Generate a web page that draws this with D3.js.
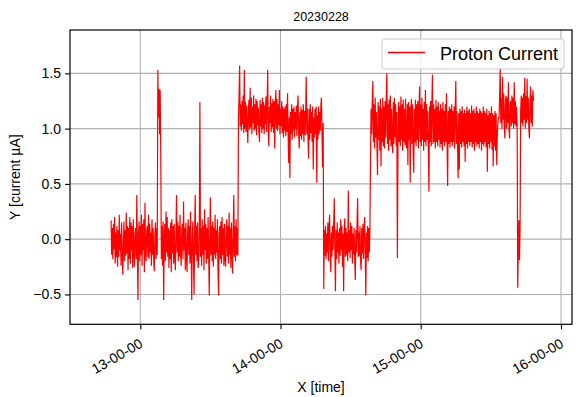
<!DOCTYPE html>
<html><head><meta charset="utf-8">
<script src="https://cdn.jsdelivr.net/npm/d3@7"></script>
<style>
body{margin:0;background:#fff;}
text{font-family:"Liberation Sans",Arial,sans-serif;fill:#000;}
</style></head><body>
<svg id="chart" width="576" height="397"></svg>
<script>
const chartTitle = "20230228";
const seriesName = "Proton Current";
const xLabel = "X [time]";
const yLabel = "Y [current µA]";
const startTime = new Date(2023, 1, 28, 12, 47, 30);
const sampleSeconds = 15;

// beam off
const seg1 = [0.17,-0.14,0.10,-0.18,0.14,-0.09,0.20,-0.22,0.06,-0.16,
 0.12,-0.25,0.08,-0.16,0.22,-0.10,0.05,-0.24,0.15,-0.12,
 -0.32,-0.06,0.16,-0.20,0.08,-0.15,0.24,-0.13,0.12,-0.28,
 0.10,-0.18,0.20,-0.22,0.15,-0.10,0.12,-0.26,0.18,-0.12,
 -0.25,0.05,0.10,-0.18,0.40,-0.10,-0.55,0.06,0.16,-0.20,
 0.12,-0.14,0.22,-0.24,0.14,-0.10,0.18,-0.30,0.33,-0.12,
 -0.20,0.08,0.12,-0.16,0.22,-0.18,0.14,-0.12,0.06,-0.24,
 0.18,-0.14,0.10,-0.20,-0.29,0.05,0.15,-0.18,0.10,-0.14,
 1.53,1.10,1.36,0.95,1.35,0.78,-0.18,0.12,-0.24,0.16,
 -0.55,0.02,0.14,-0.20,0.25,-0.12,0.20,-0.16,0.10,-0.26,
 0.08,-0.18,0.15,-0.30,0.18,-0.13,0.12,-0.22,0.14,-0.15,
 -0.28,0.05,0.40,-0.12,0.16,-0.20,0.12,-0.16,0.22,-0.14,
 -0.24,0.08,0.14,-0.18,0.34,-0.10,0.10,-0.28,0.15,-0.16,
 -0.30,0.06,0.18,-0.14,0.12,-0.22,0.25,-0.12,-0.55,0.04,
 0.16,-0.18,-0.50,0.06,0.40,-0.14,0.12,-0.20,0.15,-0.26,
 -0.22,0.08,1.24,-0.16,0.10,-0.24,0.18,-0.14,0.12,-0.28,
 0.27,-0.10,0.14,-0.22,0.10,-0.18,0.20,-0.12,-0.51,0.05,
 0.38,-0.14,0.12,-0.20,0.16,-0.25,0.10,-0.14,0.22,-0.18,
 0.08,-0.12,0.18,-0.30,-0.51,0.04,0.12,-0.18,0.16,-0.22,
 0.20,-0.14,0.10,-0.24,0.14,-0.18,-0.25,0.08,0.18,-0.16,
 0.12,-0.22,0.24,-0.14,0.10,-0.26,0.15,-0.12,-0.31,0.06,
 0.40,-0.16,0.12,-0.20,0.18,-0.14,0.10,-0.15];
// beam on
const seg2 = [1.10,1.28,1.57,1.02,1.22,0.98,1.25,1.04,1.30,0.96,
 1.53,1.00,1.24,0.97,1.21,1.03,0.87,1.18,1.26,0.99,
 1.37,1.01,1.28,0.95,1.20,1.05,1.30,0.98,1.22,1.00,
 1.27,0.94,1.25,1.03,1.19,0.97,0.88,1.26,1.02,1.22,
 0.96,1.28,1.00,1.24,0.95,1.21,1.04,1.29,0.97,1.20,
 1.53,0.99,0.84,1.20,1.05,1.30,0.97,1.23,1.01,1.27,
 0.96,1.25,0.82,1.21,1.35,1.00,1.27,0.98,1.22,1.03,
 1.35,0.95,1.18,1.02,1.25,0.96,1.20,0.92,1.18,0.98,
 1.20,0.93,1.22,0.97,1.32,0.95,0.69,1.10,0.55,1.15,
 0.95,1.22,0.90,1.18,0.98,1.20,0.92,1.15,1.00,1.21,
 0.93,1.18,1.30,0.96,0.82,1.15,0.93,1.20,0.90,1.17,
 0.95,1.22,0.88,1.16,0.94,1.12,1.47,0.95,1.18,0.92,
 0.73,1.18,0.90,1.22,0.96,1.15,0.88,1.20,0.63,1.10,
 0.92,1.18,0.95,1.20,0.51,1.12,0.90,1.20,0.95,1.15,
 0.98,1.20,1.28,0.95,0.65,1.05];
// beam off
const seg3 = [-0.45,0.08,-0.15,0.12,-0.18,0.05,-0.12,0.15,-0.20,0.10,
 0.22,-0.14,-0.30,0.06,-0.16,0.12,-0.10,0.14,0.37,-0.12,
 -0.47,0.08,-0.18,0.15,-0.12,0.06,-0.22,0.10,-0.15,0.18,
 -0.10,0.12,-0.25,0.05,-0.47,0.08,0.19,-0.16,0.10,-0.14,
 0.06,-0.20,0.44,-0.12,0.08,-0.17,0.15,-0.10,0.12,-0.22,
 0.05,-0.14,0.10,-0.18,-0.37,0.08,-0.12,0.15,0.37,-0.16,
 0.06,-0.15,0.12,-0.20,-0.28,0.10,-0.13,0.14,-0.18,0.08,
 0.20,-0.14,-0.51,0.06,-0.17,0.12,-0.20,0.10,-0.12,0.08];
// beam on
const seg4 = [0.72,1.18,0.95,1.25,1.43,0.88,1.22,0.82,1.28,0.92,
 1.15,0.85,0.58,1.24,0.90,1.20,0.80,1.27,0.66,1.18,
 0.88,1.28,0.84,1.20,0.82,1.25,0.92,1.30,1.50,0.86,
 1.22,0.80,1.26,0.90,1.30,0.84,1.18,0.88,0.78,1.24,
 0.86,1.28,0.92,1.22,0.84,1.15,-0.17,0.82,1.24,0.88,
 1.20,0.84,1.29,0.90,1.22,0.80,1.26,0.88,1.18,0.85,
 1.27,0.88,0.82,1.22,0.67,1.24,0.90,1.20,0.51,1.16,
 1.27,0.86,1.22,0.80,0.60,1.18,0.88,1.26,0.84,1.22,
 0.90,1.25,0.82,1.18,1.38,0.88,1.22,0.84,1.28,0.90,
 1.18,0.80,1.24,0.88,1.35,0.84,1.22,0.90,1.16,0.82,
 0.43,1.20,0.88,1.25,0.84,1.22,1.49,0.86,1.22,0.88,
 1.18,0.82,1.26,0.88,1.20,0.84,1.24,0.90,1.16,0.83,
 1.22,0.86,1.18,0.80,1.24,0.88,1.16,0.84,1.22,0.88,
 1.32,0.90,0.48,1.16,0.86,1.20,0.83,1.18,0.88,1.22,
 0.84,1.16,0.88,1.20,0.82,1.18,1.43,0.86,1.16,0.84,
 0.55,1.14,0.63,1.18,0.86,1.16,0.83,1.20,0.88,1.14,
 0.84,1.17,0.70,1.14,0.86,1.20,0.82,1.16,0.88,1.18,
 0.84,1.14,0.88,1.21,0.83,1.16,0.86,1.18,0.80,1.14,
 0.88,1.20,0.84,1.16,0.86,1.14,0.82,1.18,0.88,1.16,
 0.80,1.14,0.86,1.20,0.84,1.16,0.88,1.14,0.83,1.18,
 0.61,1.12,0.86,1.16,0.82,1.14,0.88,1.20,0.81,1.14,
 0.66,1.12,0.84,1.16,0.80,1.14,0.67,0.92,1.05,1.10];
// beam on, higher level
const seg5 = [1.10,1.30,1.55,1.05,1.28,1.00,1.47,1.08,1.32,1.02,
 0.91,1.25,1.30,1.00,1.28,1.05,1.42,1.00,0.91,1.22,
 1.25,1.02,1.30,1.05,1.28,1.00,1.42,1.04,1.25,1.02,
 1.20,1.05,-0.44,-0.10,0.17,-0.19,0.10,1.15,1.30,1.05,
 1.28,1.02,1.32,1.08,1.46,1.00,1.30,1.05,1.45,1.08,
 1.28,1.00,0.91,1.25,1.38,1.05,1.30,1.02,1.35,1.25];

const yTicks = [-0.5, 0, 0.5, 1.0, 1.5];
const xTickTimes = [13, 14, 15, 16].map(h => new Date(2023, 1, 28, h, 0, 0));

const values = seg1.concat(seg2, seg3, seg4, seg5);
const data = values.map((v, i) => ({t: new Date(startTime.getTime() + i * sampleSeconds * 1000), v}));

const W = 576, H = 397;
const m = {left: 70, right: 4, top: 30, bottom: 72.7};
const iw = W - m.left - m.right, ih = H - m.top - m.bottom;

const svg = d3.select("#chart");
const g = svg.append("g").attr("transform", `translate(${m.left},${m.top})`);

const x = d3.scaleTime()
  .domain([new Date(2023,1,28,12,29,55), new Date(2023,1,28,16,4,43)])
  .range([0, iw]);
const y = d3.scaleLinear().domain([-0.77, 1.892]).range([ih, 0]);

// grid
g.append("g").selectAll("line").data(xTickTimes).join("line")
  .attr("x1", d => x(d)).attr("x2", d => x(d)).attr("y1", 0).attr("y2", ih)
  .attr("stroke", "#b0b0b0").attr("stroke-width", 1.1);
g.append("g").selectAll("line").data(yTicks).join("line")
  .attr("y1", d => y(d)).attr("y2", d => y(d)).attr("x1", 0).attr("x2", iw)
  .attr("stroke", "#b0b0b0").attr("stroke-width", 1.1);

svg.append("defs").append("clipPath").attr("id", "clip")
  .append("rect").attr("width", iw).attr("height", ih);

const line = d3.line().x(d => x(d.t)).y(d => y(d.v));
g.append("path").datum(data)
  .attr("clip-path", "url(#clip)")
  .attr("fill", "none").attr("stroke", "#ff0000").attr("stroke-width", 1.2)
  .attr("stroke-linejoin", "miter").attr("d", line);

// axes
const xAxis = d3.axisBottom(x).tickValues(xTickTimes).tickFormat(d3.timeFormat("%H-%M-%S"))
  .tickSize(5).tickSizeOuter(0);
const gx = g.append("g").attr("transform", `translate(0,${ih})`).call(xAxis);
gx.select(".domain").remove();
gx.selectAll(".tick line").attr("stroke", "#000").attr("stroke-width", 1.1);
gx.selectAll(".tick text")
  .attr("font-size", 14).attr("font-family", '"Liberation Sans", Arial, sans-serif')
  .attr("text-anchor", "end").attr("dy", null).attr("y", null)
  .attr("transform", "translate(3,22) rotate(-30)");

const yAxis = d3.axisLeft(y).tickValues(yTicks).tickFormat(d3.format(".1f"))
  .tickSize(5).tickPadding(4).tickSizeOuter(0);
const gy = g.append("g").call(yAxis);
gy.select(".domain").remove();
gy.selectAll(".tick line").attr("stroke", "#000").attr("stroke-width", 1.1);
gy.selectAll(".tick text").attr("font-size", 14).attr("font-family", '"Liberation Sans", Arial, sans-serif');

// frame
g.append("rect").attr("width", iw).attr("height", ih)
  .attr("fill", "none").attr("stroke", "#000").attr("stroke-width", 1.2);

// labels
svg.append("text").attr("x", m.left + iw / 2).attr("y", 392)
  .attr("text-anchor", "middle").attr("font-size", 14).text(xLabel);
svg.append("text").attr("transform", `translate(19.5,${m.top + ih / 2}) rotate(-90)`)
  .attr("text-anchor", "middle").attr("font-size", 14).text(yLabel);
svg.append("text").attr("x", m.left + iw / 2).attr("y", 21)
  .attr("text-anchor", "middle").attr("font-size", 12.5).text(chartTitle);

// legend
const lg = svg.append("g");
lg.append("rect").attr("x", 382).attr("y", 39).attr("width", 182).attr("height", 30)
  .attr("rx", 3).attr("fill", "#fff").attr("fill-opacity", 0.8)
  .attr("stroke", "#cccccc").attr("stroke-width", 1);
lg.append("line").attr("x1", 388).attr("x2", 425).attr("y1", 52.5).attr("y2", 52.5)
  .attr("stroke", "#ff0000").attr("stroke-width", 1.3);
lg.append("text").attr("x", 440).attr("y", 59.5).attr("font-size", 18).text(seriesName);
</script>
</body></html>
